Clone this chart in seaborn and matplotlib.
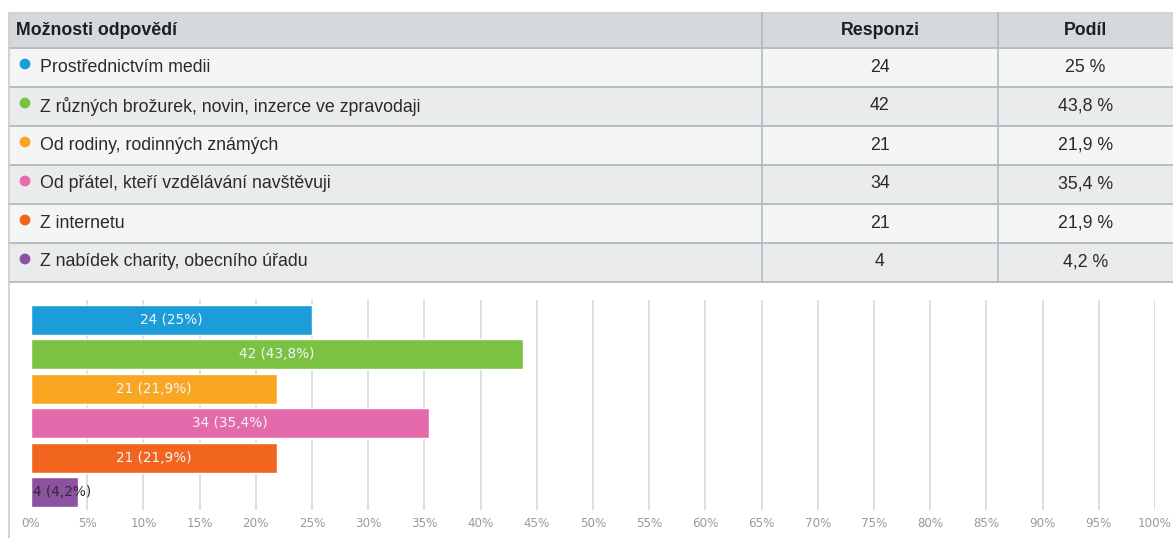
import matplotlib
matplotlib.use("Agg")
import matplotlib.pyplot as plt
from matplotlib.patches import Rectangle, Circle
import seaborn as sns
import pandas as pd

# Survey answers
options = [
    "Prostřednictvím medii",
    "Z různých brožurek, novin, inzerce ve zpravodaji",
    "Od rodiny, rodinných známých",
    "Od přátel, kteří vzdělávání navštěvuji",
    "Z internetu",
    "Z nabídek charity, obecního úřadu",
]
responses = [24, 42, 21, 34, 21, 4]
shares = [25.0, 43.8, 21.9, 35.4, 21.9, 4.2]
colors = ["#1c9dd9", "#7cc242", "#f9a623", "#e56aab", "#f1651f", "#8c519f"]
header = ["Možnosti odpovědí", "Responzi", "Podíl"]
tick_values = list(range(0, 101, 5))


def fmt_share(v, sep=""):
    s = f"{v:g}".replace(".", ",")
    return f"{s}{sep}%"


W, H = 1173, 538
sns.set_theme(style="white")
plt.rcParams["font.family"] = ["Liberation Sans", "DejaVu Sans"]

fig = plt.figure(figsize=(W / 100, H / 100), dpi=100)
fig.patch.set_facecolor("white")

# ---- table drawn in pixel coordinates ----
tab = fig.add_axes([0, 0, 1, 1], zorder=0)
tab.set_xlim(0, W)
tab.set_ylim(H, 0)
tab.axis("off")

x_left, x_col1, x_col2, x_right = 9, 762, 998, W + 2
y_top, head_h, row_h = 13, 34.5, 39
line_c = "#b3b9bd"
txt_c = "#2a2a2a"
fs = 12.8

tab.add_patch(Rectangle((x_left, y_top), x_right - x_left, head_h,
                        facecolor="#d5d9dc", edgecolor="none"))
for i in range(len(options)):
    y0 = y_top + head_h + i * row_h
    fc = "#f4f5f5" if i % 2 == 0 else "#e9ebec"
    tab.add_patch(Rectangle((x_left, y0), x_right - x_left, row_h,
                            facecolor=fc, edgecolor="none"))

y_bottom = y_top + head_h + len(options) * row_h
tab.plot([x_left, x_right], [y_top, y_top], color="#c8cdd0", lw=1.2)
for i in range(len(options) + 1):
    y = y_top + head_h + i * row_h
    tab.plot([x_left, x_right], [y, y], color=line_c, lw=1.3)
for x in (x_col1, x_col2):
    tab.plot([x, x], [y_top, y_bottom], color=line_c, lw=1.2)
tab.plot([x_left, x_left], [y_top, H], color="#c9cdd0", lw=1.2)

hy = y_top + head_h / 2
tab.text(16, hy, header[0], fontsize=fs, fontweight="bold", color="#1e1e1e",
         va="center", ha="left")
tab.text((x_col1 + x_col2) / 2, hy, header[1], fontsize=fs, fontweight="bold",
         color="#1e1e1e", va="center", ha="center")
tab.text((x_col2 + W) / 2, hy, header[2], fontsize=fs, fontweight="bold",
         color="#1e1e1e", va="center", ha="center")

for i, (opt, n, p, c) in enumerate(zip(options, responses, shares, colors)):
    yc = y_top + head_h + i * row_h + row_h / 2
    tab.add_patch(Circle((25, yc - 3), 5.4, facecolor=c, edgecolor="none"))
    tab.text(40, yc, opt, fontsize=fs, color=txt_c, va="center", ha="left")
    tab.text((x_col1 + x_col2) / 2, yc, str(n), fontsize=fs, color=txt_c,
             va="center", ha="center")
    tab.text((x_col2 + W) / 2, yc, fmt_share(p, " "), fontsize=fs,
             color=txt_c, va="center", ha="center")

# ---- horizontal bar chart ----
ax_l, ax_r = 31 / W, 1155 / W
ax_t, ax_b = 300 / H, 510 / H
ax = fig.add_axes([ax_l, 1 - ax_b, ax_r - ax_l, ax_b - ax_t], zorder=1)
ax.patch.set_alpha(0)

df = pd.DataFrame({"option": options, "share": shares})
sns.barplot(data=df, x="share", y="option", hue="option", palette=colors,
            order=options, hue_order=options, legend=False, width=0.87,
            saturation=1, ax=ax, zorder=2)

ax.set_xlim(0, 100)
ax.set_ylim(5.52, -0.58)
ax.set_xticks(tick_values)
ax.set_xticklabels([f"{t}%" for t in tick_values], fontsize=8.6,
                   color="#9a9a9a", family="DejaVu Sans")
ax.tick_params(axis="x", length=0, pad=5)
ax.set_yticks([])
ax.set_xlabel("")
ax.set_ylabel("")
for s in ax.spines.values():
    s.set_visible(False)
for t in tick_values[1:]:
    ax.axvline(t, color="#d9d9d9", lw=1.2, zorder=1)

for i, (n, p) in enumerate(zip(responses, shares)):
    label = f"{n} ({fmt_share(p)})"
    if p > 10:
        ax.text(p / 2, i, label, ha="center", va="center", fontsize=9.8,
                color="#eef6fb", family="DejaVu Sans", zorder=3)
    else:
        ax.text(0.15, i, label, ha="left", va="center", fontsize=9.8,
                color="#2e2a3a", family="DejaVu Sans", zorder=3)

fig.savefig("out.png", dpi=100)
